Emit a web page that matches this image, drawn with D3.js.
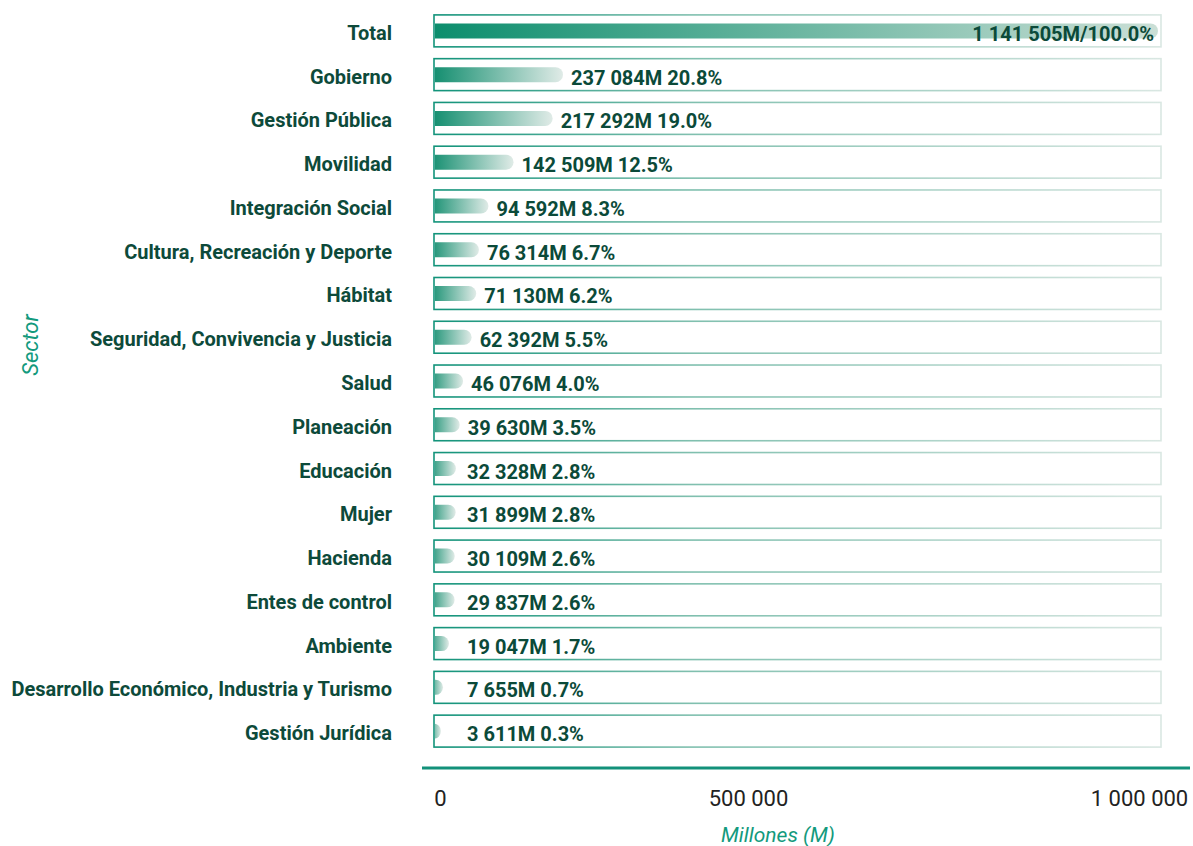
<!DOCTYPE html>
<html>
<head>
<meta charset="utf-8">
<script src="https://cdn.jsdelivr.net/npm/d3@7"></script>
<style>
  html, body { margin: 0; padding: 0; background: #fff; }
  svg { display: block; }
</style>
</head>
<body>
<script>
// data
var sectors = ['Total', 'Gobierno', 'Gestión Pública', 'Movilidad', 'Integración Social',
  'Cultura, Recreación y Deporte', 'Hábitat', 'Seguridad, Convivencia y Justicia', 'Salud',
  'Planeación', 'Educación', 'Mujer', 'Hacienda', 'Entes de control', 'Ambiente',
  'Desarrollo Económico, Industria y Turismo', 'Gestión Jurídica'];
var amounts = [1141505, 237084, 217292, 142509, 94592, 76314, 71130, 62392, 46076,
  39630, 32328, 31899, 30109, 29837, 19047, 7655, 3611];
var shares = [100.0, 20.8, 19.0, 12.5, 8.3, 6.7, 6.2, 5.5, 4.0, 3.5, 2.8, 2.8, 2.6, 2.6, 1.7, 0.7, 0.3];
var tickValues = [0, 500000, 1000000];

var width = 1193, height = 846;
var frameLeft = 434, frameRight = 1161;
var capR = 7.5;

var svg = d3.select('body').append('svg')
  .attr('width', width).attr('height', height);

var defs = svg.append('defs');

// frame outline gradient (teal -> pale)
var fg = defs.append('linearGradient').attr('id', 'frameGrad')
  .attr('gradientUnits', 'userSpaceOnUse')
  .attr('x1', frameLeft).attr('x2', frameRight).attr('y1', 0).attr('y2', 0);
fg.append('stop').attr('offset', '0%').attr('stop-color', '#12937a');
fg.append('stop').attr('offset', '35%').attr('stop-color', '#7fbfae');
fg.append('stop').attr('offset', '100%').attr('stop-color', '#d9e7e2');

var bg = defs.append('linearGradient').attr('id', 'barGrad')
  .attr('x1', 0).attr('x2', 1).attr('y1', 0).attr('y2', 0);
bg.append('stop').attr('offset', '0%').attr('stop-color', '#0a8a6a');
bg.append('stop').attr('offset', '100%').attr('stop-color', '#e0ebe7');

var tg = defs.append('linearGradient').attr('id', 'totalGrad')
  .attr('x1', 0).attr('x2', 1).attr('y1', 0).attr('y2', 0);
tg.append('stop').attr('offset', '0%').attr('stop-color', '#0a8d6c');
tg.append('stop').attr('offset', '100%').attr('stop-color', '#cbdfd6');

defs.append('clipPath').attr('id', 'inner')
  .append('rect').attr('x', frameLeft + 1).attr('y', 0)
  .attr('width', frameRight - frameLeft).attr('height', height);

var y = d3.scaleBand().domain(sectors)
  .range([9, 753]).paddingInner(0.27).paddingOuter(0.135);

// bar length scale (non-total rows) and total row scale
var x = d3.scaleLinear().domain([0, 1000000]).range([0, 523]);
var xTotal = d3.scaleLinear().domain([0, amounts[0]]).range([0, frameRight - frameLeft - 4]);

var fmtNum = d3.formatLocale({ decimal: '.', thousands: ' ', grouping: [3], currency: ['', ''] }).format(',d');
var fmtPct = d3.format('.1f');

var rows = sectors.map(function (s, i) {
  return { name: s, value: amounts[i], pct: shares[i], total: i === 0 };
});

var barH = 15;
var barX = frameLeft + 1;

var row = svg.selectAll('g.row').data(rows).enter().append('g').attr('class', 'row');

row.append('rect')
  .attr('x', frameLeft).attr('y', function (d) { return y(d.name); })
  .attr('width', frameRight - frameLeft).attr('height', y.bandwidth())
  .attr('fill', 'none').attr('stroke', 'url(#frameGrad)').attr('stroke-width', 1.6);

function barLen(d) { return d.total ? xTotal(d.value) : x(d.value) + 4; }

row.append('rect')
  .attr('clip-path', 'url(#inner)')
  .attr('x', barX - capR)
  .attr('y', function (d) { return y(d.name) + y.bandwidth() / 2 - barH / 2; })
  .attr('width', function (d) { return barLen(d) + capR; })
  .attr('height', barH).attr('rx', capR)
  .attr('fill', function (d) { return d.total ? 'url(#totalGrad)' : 'url(#barGrad)'; });

// sector names
row.append('text')
  .attr('x', 392).attr('y', function (d) { return y(d.name) + y.bandwidth() / 2 + 2; })
  .attr('text-anchor', 'end').attr('dominant-baseline', 'central')
  .style('font-family', 'Roboto, sans-serif').style('font-weight', 700)
  .style('font-size', '20px').attr('fill', '#0d4a3a')
  .text(function (d) { return d.name; });

// value labels
row.append('text')
  .attr('x', function (d) {
    if (d.total) return barX + barLen(d) - 4;
    return Math.max(barX + barLen(d) + 8, frameLeft + 33);
  })
  .attr('y', function (d) { return y(d.name) + y.bandwidth() / 2 + 3; })
  .attr('text-anchor', function (d) { return d.total ? 'end' : 'start'; })
  .attr('dominant-baseline', 'central')
  .style('font-family', 'Roboto, sans-serif').style('font-weight', 700)
  .style('font-size', '20px').attr('fill', '#0b4a39')
  .text(function (d) {
    return fmtNum(d.value) + 'M' + (d.total ? '/' : ' ') + fmtPct(d.pct) + '%';
  });

// bottom axis
var axisY = 768;
svg.append('line')
  .attr('x1', frameLeft - 12).attr('x2', width - 3)
  .attr('y1', axisY).attr('y2', axisY)
  .attr('stroke', '#13917a').attr('stroke-width', 3);

var xAxis = d3.scaleLinear().domain(tickValues).range([440, 748, 1139]);
var axisG = svg.append('g').attr('transform', 'translate(0,' + (axisY + 19) + ')')
  .call(d3.axisBottom(xAxis).tickValues(tickValues).tickSize(0).tickFormat(fmtNum));
axisG.select('.domain').remove();
axisG.selectAll('text')
  .style('font-family', 'Roboto, sans-serif').style('font-size', '22px')
  .attr('fill', '#222');

svg.append('text')
  .attr('x', 778).attr('y', 835)
  .attr('text-anchor', 'middle').attr('dominant-baseline', 'central')
  .style('font-family', 'Roboto, sans-serif').style('font-style', 'italic')
  .style('font-size', '21px').attr('fill', '#139a7d')
  .text('Millones (M)');

svg.append('text')
  .attr('transform', 'translate(30,345) rotate(-90)')
  .attr('text-anchor', 'middle').attr('dominant-baseline', 'central')
  .style('font-family', 'Roboto, sans-serif').style('font-style', 'italic')
  .style('font-size', '22px').attr('fill', '#139a7d')
  .text('Sector');
</script>
</body>
</html>
